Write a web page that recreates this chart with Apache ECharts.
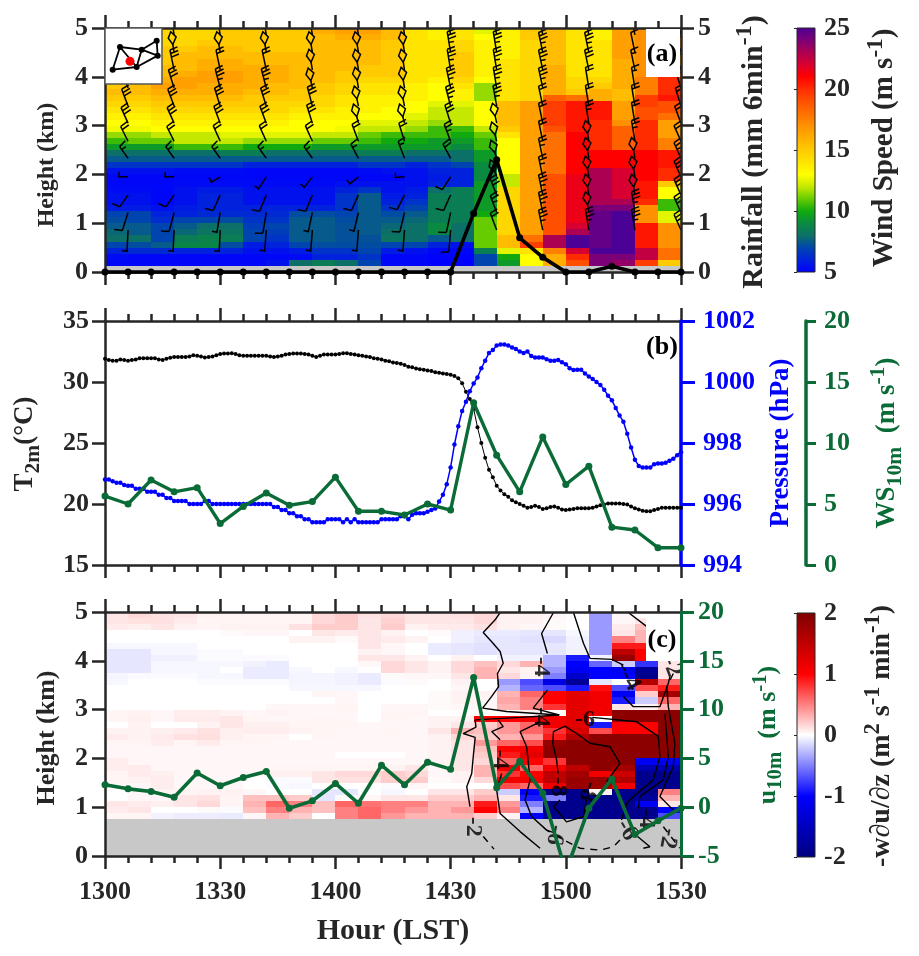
<!DOCTYPE html>
<html><head><meta charset="utf-8">
<style>html,body{margin:0;padding:0;background:#fff}#c{width:919px;height:956px}</style>
<script src="https://cdn.jsdelivr.net/npm/echarts@6/dist/echarts.min.js"></script>
</head><body><div id="c"></div>
<script>
var hourTicks=['1300','1330','1400','1430','1500','1530'];
var windColors=['#0000ff','#0022dd','#0044b0','#0c7068','#0a8a40','#10aa10','#66cc00','#c4e800','#ffff00','#ffe400','#ffca00','#ffae00','#ff9000','#ff7000','#ff5000','#ff2c00','#ff0000','#d80030','#ac0052','#7c0078','#4b0096'];
var shearColors=['#00007f','#0000bf','#0000ff','#8080ff','#ffffff','#ff8080','#ff0000','#bf0000','#7f0000'];
var stepMinutes=6, rowKm=0.125;
// wind speed (m/s), rows from 5 km downward, columns 1300..1524 every 6 min
var windSpeed=[
[14,14,14.5,14.5,14.5,15,15,15,15,16,16.5,16.5,15.5,14,13.5,14,12.5,13.5,15,15.5,14,13.5,16.5,17,17],
[14,14,14.5,14.5,14.5,15,15,15,15,15.5,16,16,15.5,14,13.5,14,13,13.5,15,15.5,14,13.5,16.5,17,17],
[14.5,14.5,14.5,14.5,15,15,15,15,15,15.5,15.5,15.5,15,14,14,14.5,13.5,13.5,14.5,15.5,14,14,16.5,17,17],
[14.5,15,15,15,15.5,15.5,15,15,15,15.5,15.5,15.5,15,14,14,14.5,13.5,13.5,14.5,15.5,14,14,16.5,17,17],
[15,15,15,15.5,15.5,15.5,15.5,15.5,15.5,15.5,15.5,15.5,15,14,14,15,13.5,13.5,14.5,15.5,14,14,16.5,17,17],
[15,15,15,15.5,16,16,15.5,15.5,15.5,15.5,15.5,15.5,15,14,14,15,13.5,14,14.5,15.5,14,14,16,17,17],
[15,15,15.5,15.5,16,16,16,16,15.5,15.5,15.5,15,15,14,14,15,13.5,14,14.5,16,14,14,16,17,17],
[15,15,15.5,16,16.5,16.5,16,16,15.5,15.5,15,15,15,14,14,15,13.5,14,14.5,16,14,14,16,17,17],
[15,15,16,16.5,16.5,16.5,16,16,15.5,15.5,15,14.5,14.5,14,13.5,14.5,13,14,14.5,16,14.5,14.5,16,17.5,20],
[15,15.5,16.5,16.5,16,16,16,15.5,15.5,15,14.5,14,14,13.5,13,14,11.5,14,14.5,16,14.5,15,16,17.5,20],
[15.5,15.5,16,16,16,16,15.5,15.5,15,15,14.5,14,14,13.5,13,13.5,11.5,14,14.5,16,15,16,15.5,17.5,20],
[15,15,15.5,15.5,15.5,15.5,15,15,15,14.5,14,13.5,13.5,13.5,13,13.5,11.5,14,14.5,18.5,18,16,15.5,19.5,20.5],
[14.5,14.5,15,15,15,15,15,14.5,14.5,14.5,14,13.5,13.5,13,12.5,12.5,13,15.5,16.5,19.5,20.5,20.5,16.5,19.5,19],
[14,14,14.5,14.5,14.5,14.5,14.5,14.5,14,14,13.5,13.5,13,13,12,12,13,15.5,16.5,19.5,20.5,20.5,16.5,19,19],
[13.5,13.5,14,14,14,14,14,14,13.5,13.5,13.5,13,13,12.5,12,12,13,15.5,16.5,19.5,20.5,20.5,16.5,19,18],
[13,13,13.5,13.5,13.5,13.5,13.5,13.5,13,13,13,12.5,12.5,12,11.5,12,13,15.5,16.5,19.5,20.5,20,17,20,16.5],
[12.8,12.8,13,13,13,13,13,13,13,13,12.8,12,12,11.5,10.5,10.5,12,15,16.5,19,20.5,20,18.5,20,16.5],
[11.5,11.5,12,12,12,12.5,12.5,12.5,12.5,12,12,11,10.5,10.5,10.5,10,11,14,16.5,18,21,20,18.5,20,16.5],
[10.5,11,11,12,12,12,11.5,11.5,11.5,11,11,10.5,10,10,9.5,9.5,10.5,13,16.5,18,21,20,18.5,20,17.5],
[9.5,9.5,9.5,10.5,10.5,10.5,10,10,10,9.5,9.5,9.5,9.5,9.5,9.5,9,10.5,13,16.5,18,21,20,18.5,20,17.5],
[8,8,8,8,8,8.5,8.5,8,8,8,8,8.5,8.5,8,8,8,9.5,13,16.5,18,21,21,21,21,20.5],
[7.5,7.5,7.5,7.5,7.5,7.5,7.5,7.5,7.5,7.5,7.5,7.5,7.5,7.5,7.5,8,9.5,13,16.5,18,21,21,21,21,20.5],
[6.5,6.5,6.5,6.5,6.5,6.5,6,6,6,6,6,6.5,6.5,6,6.5,7,9,13,16.5,18,21,21,21,21,20.5],
[5.5,5.5,5.5,5.3,5.3,5.3,5.2,5.2,5.2,5.2,5.2,5.3,5.5,5.5,6,6,9,13,16.5,18,21,23,22,21,20],
[5.2,5.2,5.2,5.2,5.2,5.2,5.2,5.2,5.2,5.2,5.2,5.2,5.2,5.5,5.8,6,9,12,16.5,19,21.5,23,22,21,20],
[5.2,5.2,5.2,5.3,5.3,5.3,5.3,5.3,5.3,5.3,5.5,5.5,5.5,5.5,6,6,9.5,12,16.5,19,21.5,23,22,20.5,15],
[5.3,5.3,5.2,5.5,5.8,5.8,5.5,5.5,5.5,5.5,6,6.5,5.5,5.8,8,8.5,9.5,14.5,16.5,19,21.5,23,22,20.5,13],
[5.5,5.5,5.2,5.5,6,6,5.5,5.5,5.5,5.5,6.5,7.5,5.8,6,8.5,8.5,9.5,14.5,16.5,19,21.5,23,22,20.5,13],
[5.5,5.5,5.2,5.5,6,6,5.5,5.5,5.5,5.5,6.5,7.5,6,6.5,8.5,8.5,9.5,14.5,16.5,19,21.5,23,23,20,10.5],
[5.8,5.8,5.5,5.8,6,6,6,6,6,6,6.5,7.5,6.5,7,8.5,8.5,9.5,14.5,16.5,19,21.5,24,24,17,10.5],
[7,7,6,6,6.2,6.2,6.2,6.2,7.2,7.2,7,7.5,7.2,7.5,8.5,8.5,10,14.5,16.5,19,21.5,24.5,25,17,12.5],
[7.2,7,6.3,7,7,7.2,6.5,6.5,7.5,7.5,7.2,7.5,7.5,7.8,8.5,8.5,11,14.5,16.5,19,21.5,24.5,25,17,12.5],
[7.5,7.5,7,7.5,8,8,6.8,7,7.5,7.5,7.3,7.5,7.8,8,9,8,11,14.5,16.5,19,22,24.5,25,20.5,17],
[7.8,7.5,7,7.8,8.2,8.2,7,6.8,7.5,7.5,7.3,7.5,8,8,9,8,11,14.5,16.5,19,23,24.5,25,20.5,17],
[8,8,7,8.5,8.7,8.5,7,6.5,7.5,7.5,7.3,7.3,8.2,8,7.5,8,11,15.5,18,23,25,24.5,25,20.5,17],
[7,7.2,7.5,8.8,8.8,7.2,5.8,6,7,7.2,7.2,7.2,7,7,6,5.5,11,15.5,19.5,23,25,24.5,25,20.5,17],
[6,6.2,6.2,6,6,6,5.5,5.5,5.8,6.5,6.5,7,5.8,5.5,5.2,5.2,8.5,12.5,14,17.5,22,25,25,22.5,18],
[5.3,5.2,5.2,5.2,5.2,5.2,5.2,5.2,5.3,6,6,6.5,5.2,5.2,5.1,5.1,7,10,13,16,20,24,24,22.5,18],
[5.2,5.2,5.2,5.2,5.2,5.2,5.2,5.5,8,8.5,8,7,5.2,5.2,5,5,7,9.5,13,16,19,24,23.5,19.5,15]
];
var barbTimes=[6,18,30,42,54,66,78,90,102,114,126,138,150];
var barbHeights=[0.86,1.22,1.58,1.95,2.33,2.68,3.05,3.4,3.77,4.14,4.5,4.86];
var barbDirection=[
[186,186,186,190,190,190,190,190,320,335,340,340,315],
[215,210,200,200,205,208,208,205,320,335,340,340,315],
[237,237,225,222,222,225,228,225,318,335,340,340,315],
[270,270,255,235,240,250,268,235,320,335,340,340,315],
[302,302,302,302,302,310,320,310,325,335,340,340,315],
[312,312,315,315,315,320,325,320,330,335,340,340,315],
[315,315,320,320,325,330,330,325,335,335,340,340,320],
[320,320,325,325,330,335,335,330,338,335,340,340,325],
[325,325,330,330,335,340,340,335,340,335,340,340,325],
[330,335,335,335,340,340,340,340,340,335,335,335,325],
[335,340,340,340,340,340,340,340,340,335,335,335,325],
[335,340,340,340,340,340,340,340,340,335,335,335,325]
];
var barbSpeed=[
[2,2,2,2,2,2,2,4,8,14,14,14,12],
[4,4,2,4,2,2,4,4,10,14,16,14,12],
[4,4,4,4,4,4,4,4,12,14,16,16,12],
[2,2,2,2,2,2,2,4,16,10,16,16,12],
[6,6,6,6,6,6,6,8,16,10,16,18,10],
[8,8,8,8,8,8,8,10,16,8,16,10,8],
[12,12,12,12,12,16,16,12,16,8,10,8,8],
[12,12,12,12,12,16,16,14,14,8,8,8,8],
[12,12,14,14,16,16,16,14,14,14,8,6,6],
[12,12,8,8,16,16,16,14,14,14,12,6,6],
[12,16,16,16,16,16,16,14,14,14,14,4,6],
[12,16,16,16,16,16,16,16,14,12,14,4,6]
];
var rainfall=[0,0,0,0,0,0,0,0,0,0,0,0,0,0,0,0,1.2,2.3,0.7,0.3,0,0,0.12,0,0,0];
var temperature=[31.9,31.8,31.75,31.75,31.85,31.8,31.75,31.8,31.85,31.95,31.95,31.95,31.95,31.95,31.85,31.8,31.9,31.98,32.05,32.05,32.05,32.05,32.08,32.2,32.15,32.1,32.0,32.05,32.08,32.2,32.3,32.33,32.33,32.35,32.3,32.2,32.15,32.15,32.15,32.15,32.15,32.15,32.15,32.08,32.05,32.1,32.15,32.25,32.3,32.33,32.33,32.33,32.3,32.25,32.15,32.05,32.15,32.25,32.25,32.25,32.25,32.3,32.35,32.35,32.3,32.25,32.2,32.15,32.1,32.05,31.95,31.9,31.85,31.75,31.7,31.6,31.55,31.5,31.4,31.25,31.2,31.1,31.05,31.0,30.95,30.9,30.8,30.75,30.7,30.65,30.6,30.5,30.3,29.9,29.2,28.6,27.8,26.3,25.0,23.8,22.8,22.2,21.5,21.1,20.8,20.6,20.3,20.15,20.0,19.85,19.7,19.75,19.85,19.75,19.6,19.65,19.75,19.8,19.7,19.55,19.5,19.55,19.6,19.65,19.65,19.65,19.65,19.7,19.8,19.9,19.95,20.05,20.05,20.05,20.05,20.0,19.95,19.8,19.65,19.55,19.45,19.4,19.4,19.5,19.6,19.7,19.7,19.7,19.7,19.7,19.7];
var pressure=[996.8,996.8,996.75,996.7,996.7,996.62,996.6,996.6,996.5,996.5,996.5,996.4,996.4,996.4,996.3,996.3,996.2,996.2,996.1,996.1,996.1,996.1,996.0,996.0,996.0,996.0,996.1,996.1,996.0,996.0,996.0,996.0,996.0,996.0,996.0,996.0,996.0,996.0,996.0,996.0,996.0,996.0,996.0,996.0,995.9,995.9,995.8,995.8,995.7,995.7,995.6,995.6,995.5,995.5,995.4,995.4,995.4,995.4,995.5,995.5,995.5,995.5,995.4,995.5,995.4,995.5,995.4,995.4,995.4,995.4,995.4,995.4,995.5,995.5,995.5,995.5,995.5,995.6,995.6,995.5,995.65,995.7,995.7,995.7,995.75,995.8,995.85,996.08,996.3,996.65,997.2,997.95,998.55,999.05,999.35,999.7,999.95,1000.15,1000.45,1000.7,1000.95,1001.05,1001.2,1001.23,1001.23,1001.2,1001.13,1001.08,1001.0,1000.95,1001.0,1000.85,1000.8,1000.8,1000.8,1000.75,1000.7,1000.7,1000.72,1000.65,1000.58,1000.45,1000.39,1000.4,1000.4,1000.28,1000.18,1000.1,1000.0,999.9,999.75,999.55,999.4,999.15,998.9,998.7,998.3,997.85,997.45,997.25,997.2,997.2,997.2,997.3,997.33,997.33,997.35,997.42,997.48,997.6,997.7];
var ws10m=[5.65,5.0,6.97,6.0,6.34,3.4,4.8,5.9,4.9,5.2,7.2,4.4,4.4,4.1,5.0,4.5,13.3,9.0,6.0,10.5,6.6,8.1,3.1,2.87,1.42,1.42];
var u10m=[2.3,1.88,1.6,1.03,3.5,2.2,3.05,3.66,-0.1,0.65,2.43,0.4,4.3,2.3,4.6,3.9,13.3,2.0,4.7,1.44,-6.6,-0.1,2.9,-2.8,-1.4,-0.1];
// shear term, rows from 5 km down to 0.75 km, columns 1300..1524 every 6 min
var shear=[
[.1,.15,.12,.1,.05,.04,.04,.04,.04,.15,.2,.12,.15,.1,.1,.12,.15,.05,.05,.03,0,-.4,.03,0,0],
[.1,.12,.12,.08,.04,.04,.04,.04,.04,.15,.2,.1,.18,.1,.1,.1,.15,.05,.05,.02,0,-.4,.03,.1,0],
[.08,.06,.1,.05,.04,.05,.05,.05,.12,.2,.2,.1,.2,.05,.08,.08,.12,.05,.03,.02,0,-.4,.08,.25,0],
[0,0,0,0,0,.02,.03,.03,0,.1,.08,.1,.05,0,.02,-.06,-.08,-.08,-.1,-.1,-.03,-.4,.1,.3,0],
[0,0,0,0,0,0,0,0,.05,.05,.02,.1,.08,.05,0,-.06,-.1,-.1,-.12,-.15,-.05,-.4,.5,.3,0],
[-.03,-.03,-.03,-.03,0,0,0,0,0,0,0,.1,.03,0,-.08,-.1,-.12,-.1,-.1,-.1,-.05,-.4,.9,.9,0],
[-.1,-.1,-.03,-.03,-.02,-.02,0,0,0,0,0,.05,.03,0,-.08,-.1,-.12,-.1,-.1,-.1,-.05,-.4,1.5,1,0],
[-.1,-.1,-.06,-.06,-.02,-.02,-.02,-.02,0,0,0,.1,.1,.05,0,.05,0,-.05,-.05,-.3,-.9,-.05,1.8,1,0],
[-.1,-.1,-.03,-.03,-.03,-.03,-.05,-.08,0,0,0,.03,.15,.1,.05,.15,.25,.15,.3,-.3,-1,-.6,-.2,-.8,.1],
[-.1,-.1,-.03,-.03,-.03,0,-.08,-.08,-.03,0,-.03,0,.15,.1,.05,.15,.3,.1,.05,-.4,-1.1,-1,-1.1,-1.8,.1],
[-.04,-.02,-.02,-.02,-.03,-.03,-.08,-.08,-.04,-.04,-.05,-.08,.02,.03,.03,.1,.3,.15,.05,-.5,-1.4,-1,-1,-1.9,.1],
[-.03,0,0,0,-.02,-.02,-.02,-.02,-.04,-.04,-.05,-.08,-.02,.02,0,.05,0,-.4,-.7,-1.2,-1.8,-.1,0,1.6,.6],
[0,0,0,0,0,0,0,0,-.03,-.03,-.03,-.03,0,0,0,.03,0,-.3,-.6,-.7,-.9,.95,-.7,.7,.9],
[0,0,0,0,0,0,0,0,0,.04,.03,0,0,0,.02,.05,.05,.3,.6,1,1.2,1.1,-1.1,.2,1.7],
[0,0,0,0,0,0,0,0,0,0,.03,0,0,0,.02,.05,.03,.35,.5,1,1.2,1.1,-.9,-.2,.6],
[0,0,0,0,0,0,0,.03,.03,.03,.04,0,.03,.03,.02,.03,.03,.3,.5,.8,1.2,1.1,.1,.05,.3],
[.04,.05,.03,.07,.07,.05,.03,.05,.03,.03,.03,0,.04,.04,0,0,0,.02,.05,0,1.2,1.1,1.9,1.9,1.9],
[.04,.06,.03,.08,.08,.1,.04,.03,.03,.04,.03,0,.04,.03,.05,.05,1,1,1.1,1.1,1.2,0,1.9,1.9,1.9],
[0,.05,0,0,.05,.1,.06,.06,.04,.04,.04,.03,.03,.03,.05,.1,.2,.4,.6,1.1,1.2,-.9,1,1,1.9],
[.05,.05,.06,.08,.12,.06,.07,.07,.05,.04,.03,.03,.04,.03,.1,.3,.25,.4,.6,.8,1.3,.7,1,1,1.9],
[.08,.05,.08,.12,.13,.06,.04,.04,0,.04,.03,.03,.03,.03,.05,.15,.2,.3,.4,.9,1.6,1.9,1.9,1.9,1.9],
[.04,.04,.07,.04,.08,.04,.04,.03,.03,.03,.03,.03,.03,.03,.05,.1,.4,.6,.7,1.8,1.9,1.9,1.9,1.9,1.9],
[.03,.03,.03,.03,.03,.03,.03,.03,.03,.03,.03,.03,.03,.03,.05,.1,.25,1,1.1,1.9,1.9,1.9,1.9,1.9,1.9],
[.03,.03,.03,.03,.03,.03,.03,.03,.03,.03,0,0,0,.03,.05,.1,.2,.9,1.2,1.9,1.9,1.9,1.9,1.9,1.9],
[.07,.03,.03,.03,.03,.03,.03,.03,.03,.03,.03,.03,.03,.03,.05,.1,.15,.6,1,.8,1.9,1.9,1.9,-1.1,-1.1],
[.07,.08,.03,.03,.03,.03,.03,.04,.04,.04,.04,.04,.05,.1,.03,.1,.3,1.1,.6,1.1,1.5,1.9,1.7,-1.6,-1.6],
[.04,.08,.06,.03,.03,.03,.03,.06,.06,.1,.15,.15,.2,.15,.03,.05,.3,.8,1,1.5,1.7,1.1,1.4,-1.9,-1.9],
[.04,.05,.07,.03,.03,.03,0,-.02,-.02,.1,.12,.12,.2,.2,.02,.05,.15,1.1,1.1,1.5,1.8,1.8,1.6,-1.9,-1.9],
[.03,.03,.07,.03,.03,.03,0,-.02,-.03,0,0,0,-.02,.03,0,0,0,.7,.6,1.1,1.8,1.8,1.1,-1.9,-1.9],
[0,.03,.04,.04,.05,.05,.03,0,0,-.1,-.1,0,-.03,0,.1,.1,.2,-.2,-1,-1.9,-1.9,.05,-1.9,-1.9,.5],
[0,.03,.03,.1,.12,.04,.25,.25,.2,-.1,.02,.03,.1,.1,.2,.2,.3,.1,-.9,-.5,-1.9,-1.9,-1.9,-1.8,.3],
[.1,.08,.06,.1,.15,.04,.3,.6,.5,.25,.6,.55,.5,.5,.3,.3,.9,.4,-.5,-1.9,-1.9,-1.9,-1.9,-1.1,.1],
[.08,.1,0,0,.02,-.02,.25,.5,.3,.25,.5,.6,.5,.4,.3,.4,1,.5,-.3,-1.9,-1.9,-1.9,-1.9,-1.9,-1],
[.04,.04,-.05,-.07,-.07,-.08,.03,.3,.2,0,.5,.6,.4,.3,.3,.3,.2,.05,-1,-1.9,-1.9,-1.9,-1.9,-1.9,-.7]
];
// contours of the field in panel (c): [minutes after 1300, km]
var contourSolid=[
[[102.9,4.99],[101.6,4.84],[98.5,4.58],[100.7,4.39],[102.9,4.19],[103.7,3.95],[102.2,3.74],[102.5,3.47],[100.7,3.27],[98.35,3.03],[104.6,2.96],[118.3,2.89],[108.1,2.84],[96.4,2.79],[96.6,2.64],[93.3,2.51],[96.4,2.43],[95.9,2.04],[95.5,1.69],[94.2,1.42],[95.05,1.01]],
[[116.8,4.99],[113.7,4.56],[115.2,4.15]],
[[115.2,3.4],[111.5,3.03],[118.3,2.89]],
[[113.3,2.75],[108.1,2.55],[109.8,2.24],[110.7,1.56],[109.4,1.15],[111.1,0.81],[115,0.53],[117.2,0.47]],
[[102.4,2.79],[103.7,2.65],[100.7,2.55],[102.9,2.38]],
[[103.3,1.69],[102,1.35],[102.9,0.87],[108.1,0.5],[113.3,0.16]],
[[122,4.99],[124.6,4.36],[126.3,4.05],[132,4.03],[135,3.91]],
[[135,3.27],[137.6,3.06],[144.5,3.06],[146.7,3.54],[147.1,3.67]],
[[136.3,4.99],[141.1,4.7]],
[[146.3,3.47],[146.7,3.06],[148.4,2.31],[148,1.83],[144.5,1.22],[148,0.94]],
[[126.9,2.84],[138.5,2.75],[144.1,2.45],[144.5,2.04],[142.8,1.56],[137.6,1.22],[135.9,1.08],[134.5,0.74]],
[[119.8,2.66],[116.8,2.55],[116.6,2.31],[117.6,1.97],[118,1.69]],
[[118.5,1.15],[116.8,1.01],[120.2,0.7],[124.6,0.81],[125.4,1.15]],
[[130.6,1.52],[134.1,1.9],[131.5,2.24],[126.3,2.31],[122.8,2.51],[119.8,2.66]],
[[145.8,2.92],[146.7,2.04],[145.4,1.56],[139.3,1.22],[138.9,0.98]],
[[137.6,0.47],[141.9,0.19],[140.2,0.16]]
];
var contourDashed=[
[[98.5,0.4],[101.3,0.14]],
[[134.1,0.33],[132.4,0.19],[128.9,0.12],[123.7,0.16],[120.2,0.3],[115,0.53]],
[[145.4,0.6],[149.7,0.16]],
[[148,3.74],[146.3,3.47]],
[[134.5,3.91],[136.3,3.71]]
];
var contourLabels=[
[113.5,3.88,'-4',-90],[113.7,2.85,'-4',-90],[102.9,1.98,'-4',-90],[95.9,0.6,'-2',-90],[125,2.8,'-6',0],
[118,1.42,'-8',-90],[125.9,1.32,'-8',-110],[117.2,0.43,'-6',-100],[135.9,0.53,'-6',-60],[136.7,3.6,'-4',-60],
[141,0.77,'-4',-90],[147.6,3.88,'-2',-70],[146.7,0.36,'-2',-100]
];
var stationX=[45,110,155,158,95,23], stationY=[111,103,130,85,51,43];
var stationEdges=[[0,1],[1,2],[2,3],[1,3],[1,4],[3,4],[4,5],[5,0],[0,4]];
var targetSite=[75,68];

var times6=[],times1=[],i;
for(i=0;i<rainfall.length;i++)times6.push(i*stepMinutes);
for(i=0;i<temperature.length;i++)times1.push(i);
function zip(t,v){return v.map(function(y,k){return [t[k],y];});}
function cells(rows){var out=[];rows.forEach(function(r,ri){r.forEach(function(v,ci){out.push([ci*stepMinutes,5-(ri+1)*rowKm,v]);});});return out;}
var barbData=[];barbHeights.forEach(function(h,l){barbTimes.forEach(function(t,c){barbData.push([t,h,barbDirection[l][c],barbSpeed[l][c]]);});});

var dark='#262626',green='#0a6b37',blue='#0000ff',F='Liberation Serif',TS=26;
function renderCell(p,api){
  var t=api.value(0),h=api.value(1);
  var a=api.coord([t,h+rowKm]),b=api.coord([t+stepMinutes,h]);
  var x0=Math.round(a[0]),y0=Math.round(a[1]),x1=Math.round(b[0]),y1=Math.round(b[1]);
  return {type:'rect',shape:{x:x0,y:y0,width:x1-x0,height:y1-y0},style:{fill:api.visual('color')}};
}
function renderBarb(p,api){
  var base=api.coord([api.value(0),api.value(1)]),d=api.value(2)*Math.PI/180,s=api.value(3);
  var dx=Math.sin(d)*0.45*22,dy=-Math.cos(d)*22,len=Math.sqrt(dx*dx+dy*dy);
  var ux=dx/len,uy=dy/len,nx=-uy,ny=ux;
  var tip=[base[0]+dx,base[1]+dy],kids=[],pos=0;
  var st={stroke:'#000',lineWidth:1.5,fill:null};
  function at(o){return [tip[0]-ux*o,tip[1]-uy*o];}
  if(s>=16){
    var t0=at(0),m=at(6),e=at(13);
    kids.push({type:'polyline',shape:{points:[base,e]},style:st});
    kids.push({type:'polygon',shape:{points:[t0,[m[0]+nx*4.5,m[1]+ny*4.5],e,[m[0]-nx*3.5,m[1]-ny*3.5]]},style:st});
    return {type:'group',children:kids};
  }
  kids.push({type:'polyline',shape:{points:[base,tip]},style:st});
  while(s>=4){var a=at(pos);kids.push({type:'polyline',shape:{points:[a,[a[0]+nx*8+ux*1.5,a[1]+ny*8+uy*1.5]]},style:st});pos+=3.6;s-=4;}
  if(s>=2){var b=at(pos+(pos?0:1));kids.push({type:'polyline',shape:{points:[b,[b[0]+nx*5,b[1]+ny*5]]},style:st});}
  return {type:'group',children:kids};
}
function colorbarRenderer(colors){return function(p,api){
  var a=api.coord([0,api.value(1)]),b=api.coord([1,api.value(2)]);
  var stops=colors.map(function(c,k){return {offset:k/(colors.length-1),color:c};});
  return {type:'rect',shape:{x:a[0],y:b[1],width:b[0]-a[0],height:a[1]-b[1]},style:{stroke:dark,lineWidth:1,fill:{type:'linear',x:0,y:1,x2:0,y2:0,colorStops:stops}}};
};}
function xAxisOf(g,pos,labels){return {type:'value',gridIndex:g,position:pos,min:0,max:150,interval:30,z:5,splitLine:{show:false},
  axisLine:{onZero:false,lineStyle:{color:dark,width:2.5}},axisTick:{show:true,length:13,lineStyle:{color:dark,width:2.5}},
  minorTick:{show:true,splitNumber:5,length:7,lineStyle:{color:dark,width:2.5}},
  axisLabel:{show:labels,margin:23,fontFamily:F,fontWeight:'bold',fontSize:TS,color:dark,formatter:function(v){return hourTicks[v/30];}}};}
function yAxisOf(g,pos,mn,mx,iv,col,extra){var o={type:'value',gridIndex:g,position:pos,min:mn,max:mx,interval:iv,z:5,splitLine:{show:false},
  axisLine:{show:true,onZero:false,lineStyle:{color:col,width:2.5}},axisTick:{show:true,length:13,lineStyle:{color:col,width:2.5}},
  axisLabel:{margin:17,fontFamily:F,fontWeight:'bold',fontSize:TS,color:col,formatter:function(v){return String(v);}}};
  for(var k in extra)o[k]=extra[k];return o;}
function hiddenAxis(g,mn,mx){return {type:'value',gridIndex:g,min:mn,max:mx,show:false};}
function cbAxis(g,mn,mx,iv){return {type:'value',gridIndex:g,position:'right',min:mn,max:mx,interval:iv,z:5,splitLine:{show:false},
  axisLine:{show:false},axisTick:{show:true,inside:true,length:3,lineStyle:{color:dark,width:1}},
  axisLabel:{margin:9,fontFamily:F,fontWeight:'bold',fontSize:TS,color:dark,formatter:function(v){return String(v);}}};}
function labelMargin(col,m){return {margin:m,fontFamily:F,fontWeight:'bold',fontSize:TS,color:col,formatter:function(v){return String(v);}};}

var series=[
 {type:'custom',name:'Wind speed',xAxisIndex:0,yAxisIndex:0,data:cells(windSpeed),renderItem:renderCell,clip:true,encode:{x:0,y:1},silent:true,z:2},
 {type:'custom',name:'Shear',xAxisIndex:4,yAxisIndex:5,data:cells(shear),renderItem:renderCell,clip:true,encode:{x:0,y:1},silent:true,z:2},
 {type:'custom',name:'Wind barbs',xAxisIndex:0,yAxisIndex:0,data:barbData,renderItem:renderBarb,clip:true,encode:{x:0,y:1},silent:true,z:3},
 {type:'line',name:'Rainfall',xAxisIndex:0,yAxisIndex:1,data:zip(times6,rainfall),symbol:'circle',symbolSize:7,showAllSymbol:true,clip:false,lineStyle:{color:'#000',width:3.6},itemStyle:{color:'#000'},z:6},
 {type:'line',name:'T2m',xAxisIndex:2,yAxisIndex:2,data:zip(times1,temperature),symbol:'circle',symbolSize:4,showAllSymbol:true,clip:false,lineStyle:{color:'#000',width:1},itemStyle:{color:'#000'},z:6},
 {type:'line',name:'Pressure',xAxisIndex:2,yAxisIndex:3,data:zip(times1,pressure),symbol:'circle',symbolSize:4.5,showAllSymbol:true,clip:false,lineStyle:{color:blue,width:1.5},itemStyle:{color:blue},z:7},
 {type:'line',name:'WS10m',xAxisIndex:2,yAxisIndex:4,data:zip(times6,ws10m),symbol:'circle',symbolSize:7,showAllSymbol:true,clip:false,lineStyle:{color:green,width:3.4},itemStyle:{color:green},z:8}
];
contourSolid.forEach(function(c){series.push({type:'line',xAxisIndex:4,yAxisIndex:5,data:c,symbol:'none',lineStyle:{color:'#000',width:1.4},z:4,silent:true});});
contourDashed.forEach(function(c){series.push({type:'line',xAxisIndex:4,yAxisIndex:5,data:c,symbol:'none',lineStyle:{color:'#000',width:1.4,type:[7,6]},z:4,silent:true});});
series.push({type:'scatter',name:'Contour labels',xAxisIndex:4,yAxisIndex:5,symbolSize:0,z:5,silent:true,
  data:contourLabels.map(function(l){return {value:[l[0],l[1]],label:{show:true,position:'inside',formatter:l[2],rotate:l[3],fontFamily:F,fontWeight:'bold',fontSize:24,color:'#000'}};})});
series.push({type:'line',name:'u10m',xAxisIndex:4,yAxisIndex:6,data:zip(times6,u10m),symbol:'circle',symbolSize:7,showAllSymbol:true,clip:true,lineStyle:{color:green,width:3.6},itemStyle:{color:green},z:7});
series.push({type:'custom',name:'Colorbar wind',xAxisIndex:6,yAxisIndex:7,data:[[0,5,25]],renderItem:colorbarRenderer(windColors),silent:true,encode:{y:[1,2]},z:3});
series.push({type:'custom',name:'Colorbar shear',xAxisIndex:7,yAxisIndex:8,data:[[0,-2,2]],renderItem:colorbarRenderer(shearColors),silent:true,encode:{y:[1,2]},z:3});
stationEdges.forEach(function(e){series.push({type:'line',xAxisIndex:8,yAxisIndex:9,data:[[stationX[e[0]],stationY[e[0]]],[stationX[e[1]],stationY[e[1]]]],symbol:'none',lineStyle:{color:'#000',width:1.8},z:12,silent:true});});
series.push({type:'scatter',name:'Stations',xAxisIndex:8,yAxisIndex:9,data:zip(stationX,stationY),symbol:'circle',symbolSize:6,itemStyle:{color:'#000',opacity:1},z:13,silent:true});
series.push({type:'scatter',name:'Site',xAxisIndex:8,yAxisIndex:9,data:[targetSite],symbol:'circle',symbolSize:9,itemStyle:{color:'#ff0000',opacity:1},z:14,silent:true});

function tok(s,c){return {fontFamily:F,fontWeight:'bold',fontSize:s,fill:c,lineHeight:s+2};}
function title(x,y,text,size,col){
  var r={a:tok(size,col),s:Object.assign(tok(size*0.8,col),{padding:[0,0,size*0.6,0]}),d:Object.assign(tok(size*0.8,col),{padding:[size*0.6,0,0,0]})};
  return {type:'text',x:x,y:y,rotation:Math.PI/2,z:100,style:{text:text,rich:r,align:'center',verticalAlign:'middle',fill:col,fontFamily:F,fontWeight:'bold',fontSize:size}};
}
var graphics=[
 {type:'rect',z:90,shape:{x:646,y:29,width:34,height:48},style:{fill:'#fff'}},
 {type:'rect',z:90,shape:{x:646,y:614,width:34,height:47},style:{fill:'#fff'}},
 {type:'text',z:100,x:662,y:54,style:{text:'(a)',align:'center',verticalAlign:'middle',fontFamily:F,fontWeight:'bold',fontSize:26,fill:'#000'}},
 {type:'text',z:100,x:662,y:347,style:{text:'(b)',align:'center',verticalAlign:'middle',fontFamily:F,fontWeight:'bold',fontSize:26,fill:'#000'}},
 {type:'text',z:100,x:662,y:640,style:{text:'(c)',align:'center',verticalAlign:'middle',fontFamily:F,fontWeight:'bold',fontSize:26,fill:'#000'}},
 title(47,165,'{a|Height (km)}',24,dark),
 title(47,738,'{a|Height (km)}',26,dark),
 title(25,444,'{a|T}{d|2m}{a|(°C)}',27,dark),
 title(754,152,'{a|Rainfall (mm 6min}{s|-1}{a|)}',30,dark),
 title(885,148,'{a|Wind Speed (m s}{s|-1}{a|)}',29,dark),
 title(781,443,'{a|Pressure (hPa)}',27,blue),
 title(887,443,'{a|WS}{d|10m}{a|  (m s}{s|-1}{a|)}',27,green),
 title(768,735,'{a|u}{d|10m}{a|  (m s}{s|-1}{a|)}',26,green),
 title(882,736,'{a|-w∂u/∂z (m}{s|2}{a| s}{s|-1}{a| min}{s|-1}{a|)}',28,dark),
 {type:'text',z:100,x:393,y:931,style:{text:'Hour (LST)',align:'center',verticalAlign:'middle',fontFamily:F,fontWeight:'bold',fontSize:30,fill:dark}}
];
var option={animation:false,backgroundColor:'#fff',
 grid:[
  {left:105,top:28,width:576,height:244,show:true,backgroundColor:'#c8c8c8',borderWidth:0},
  {left:105,top:321,width:576,height:244},
  {left:105,top:612,width:576,height:244,show:true,backgroundColor:'#c8c8c8',borderWidth:0},
  {left:797,top:28,width:18,height:244},
  {left:797,top:613,width:18,height:244},
  {left:105,top:28,width:57,height:56,show:true,backgroundColor:'#fff',borderColor:'#555',borderWidth:1.5,z:10}
 ],
 xAxis:[xAxisOf(0,'bottom',false),xAxisOf(0,'top',false),xAxisOf(1,'bottom',false),xAxisOf(1,'top',false),xAxisOf(2,'bottom',true),xAxisOf(2,'top',false),
  hiddenAxis(3,0,1),hiddenAxis(4,0,1),hiddenAxis(5,0,171)],
 yAxis:[
  yAxisOf(0,'left',0,5,1,dark),yAxisOf(0,'right',0,5,1,dark),
  yAxisOf(1,'left',15,35,5,dark,{axisLabel:labelMargin(dark,16)}),
  yAxisOf(1,'right',994,1002,2,blue,{axisLabel:labelMargin(blue,22),axisLine:{show:true,onZero:false,lineStyle:{color:blue,width:3.5}},axisTick:{show:true,length:14,lineStyle:{color:blue,width:3}},z:6}),
  yAxisOf(1,'right',0,20,5,green,{offset:125,axisLabel:labelMargin(green,18),axisLine:{show:true,onZero:false,lineStyle:{color:green,width:3.5}},axisTick:{show:true,length:10,lineStyle:{color:green,width:3}}}),
  yAxisOf(2,'left',0,5,1,dark),
  yAxisOf(2,'right',-5,20,5,green,{axisLine:{show:true,onZero:false,lineStyle:{color:green,width:3}},axisTick:{show:true,length:13,lineStyle:{color:green,width:3}},z:6}),
  cbAxis(3,5,25,5),cbAxis(4,-2,2,1),hiddenAxis(5,0,168)
 ],
 visualMap:[
  {type:'continuous',show:false,seriesIndex:0,dimension:2,min:5,max:25,inRange:{color:windColors}},
  {type:'continuous',show:false,seriesIndex:1,dimension:2,min:-2,max:2,inRange:{color:shearColors}}
 ],
 series:series,graphic:{elements:graphics}
};
var chart=echarts.init(document.getElementById('c'),null,{renderer:'canvas'});
chart.setOption(option);
</script></body></html>
